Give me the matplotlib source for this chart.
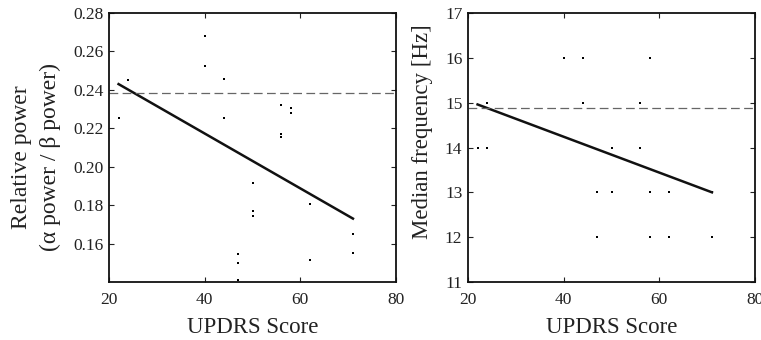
import numpy as np
import matplotlib
matplotlib.use("Agg")
import matplotlib.pyplot as plt

plt.rcParams['font.family'] = ['Liberation Serif', 'DejaVu Serif']

# relative power (alpha / beta), per UPDRS score
rp_x = [22, 24, 40, 40, 44, 44, 47, 47, 47, 50, 50, 50, 56, 56, 56, 58, 58, 62, 62, 71, 71]
rp_y = [0.2256, 0.2452, 0.2682, 0.2525, 0.2459, 0.2253, 0.1548, 0.1498, 0.1413,
        0.1915, 0.1771, 0.1742, 0.2322, 0.2170, 0.2154, 0.2303, 0.2282,
        0.1804, 0.1515, 0.1650, 0.1552]
rp_fit_x = [22, 71]
rp_fit_y = [0.243, 0.173]
rp_ref = 0.2386

# median frequency [Hz]
mf_x = [22, 24, 24, 40, 44, 44, 47, 47, 50, 50, 56, 56, 58, 58, 58, 62, 62, 71, 71]
mf_y = [14, 14, 15, 16, 16, 15, 13, 12, 14, 13, 15, 14, 16, 13, 12, 13, 12, 13, 12]
mf_fit_x = [22, 71]
mf_fit_y = [14.96, 13.0]
mf_ref = 14.87

xticks = [20, 40, 60, 80]
rp_yticks = [0.16, 0.18, 0.20, 0.22, 0.24, 0.26, 0.28]
mf_yticks = [11, 12, 13, 14, 15, 16, 17]

fig = plt.figure(figsize=(7.61, 3.40), dpi=100)
ax1 = fig.add_axes([109/761, 1-282/340, (396-109)/761, (282-13)/340])
ax2 = fig.add_axes([468/761, 1-282/340, (755-468)/761, (282-13)/340])


def style(ax):
    ax.tick_params(direction='in', top=True, right=True, length=3.5, width=0.8,
                   labelsize=12.5, colors='#222222', pad=4)
    ax.tick_params(axis='x', pad=7)
    for s in ax.spines.values():
        s.set_linewidth(1.3)
        s.set_color('#111111')
    ax.set_xlim(20, 80)
    ax.set_xticks(xticks)
    ax.set_xlabel('UPDRS Score', fontsize=16.5, color='#222222', labelpad=7)


ax1.plot(rp_x, rp_y, 's', color='black', markersize=1.6, markeredgewidth=0)
ax1.plot(rp_fit_x, rp_fit_y, color='#111111', lw=1.8)
ax1.axhline(rp_ref, color='#666666', lw=0.9, ls=(0, (7, 3.5)))
ax1.set_ylim(0.14, 0.28)
ax1.set_yticks(rp_yticks)
ax1.set_yticklabels(['%.2f' % v for v in rp_yticks])
ax1.set_ylabel('Relative power\n(α power / β power)', fontsize=17, color='#222222',
               linespacing=1.45)
ax1.yaxis.set_label_coords(-0.168, 0.465)
style(ax1)

ax2.plot(mf_x, mf_y, 's', color='black', markersize=1.6, markeredgewidth=0)
ax2.plot(mf_fit_x, mf_fit_y, color='#111111', lw=1.8)
ax2.axhline(mf_ref, color='#666666', lw=0.9, ls=(0, (7, 3.5)))
ax2.set_ylim(11, 17)
ax2.set_yticks(mf_yticks)
ax2.set_ylabel('Median frequency [Hz]', fontsize=16.5, color='#222222')
ax2.yaxis.set_label_coords(-0.122, 0.56)
style(ax2)

fig.savefig('out.png', dpi=100)
